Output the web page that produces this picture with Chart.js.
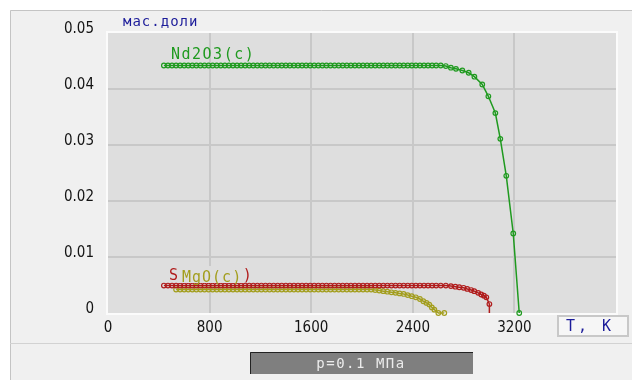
<!DOCTYPE html>
<html>
<head>
<meta charset="utf-8">
<script src="https://cdn.jsdelivr.net/npm/chart.js@4.4.1/dist/chart.umd.min.js"></script>
<style>
  html, body { margin: 0; padding: 0; background: #ffffff; }
  canvas { display: block; }
</style>
</head>
<body>
<canvas id="chart" width="632" height="380"></canvas>
<script>
// axis labels
const yTickLabels = ['0', '0.01', '0.02', '0.03', '0.04', '0.05'];
const xTickLabels = ['0', '800', '1600', '2400', '3200', ''];

// shared temperature grid, K
const gridT = [
  440, 472, 504, 536, 568, 600, 632, 664, 696, 728,
  760, 792, 824, 856, 888, 920, 952, 984, 1016, 1048,
  1080, 1112, 1144, 1176, 1208, 1240, 1272, 1304, 1336, 1368,
  1400, 1432, 1464, 1496, 1528, 1560, 1592, 1624, 1656, 1688,
  1720, 1752, 1784, 1816, 1848, 1880, 1912, 1944, 1976, 2008,
  2040, 2072, 2104, 2136, 2168, 2200, 2232, 2264, 2296, 2328,
  2360, 2392, 2424, 2456, 2488, 2520, 2552, 2584
];

// Nd2O3(c)
const nd2o3T = gridT.concat([2620, 2660, 2700, 2740, 2790, 2840, 2885, 2947, 2995, 3050, 3089, 3136, 3191, 3238]);
const nd2o3 = [
  0.0442, 0.0442, 0.0442, 0.0442, 0.0442, 0.0442, 0.0442, 0.0442, 0.0442, 0.0442,
  0.0442, 0.0442, 0.0442, 0.0442, 0.0442, 0.0442, 0.0442, 0.0442, 0.0442, 0.0442,
  0.0442, 0.0442, 0.0442, 0.0442, 0.0442, 0.0442, 0.0442, 0.0442, 0.0442, 0.0442,
  0.0442, 0.0442, 0.0442, 0.0442, 0.0442, 0.0442, 0.0442, 0.0442, 0.0442, 0.0442,
  0.0442, 0.0442, 0.0442, 0.0442, 0.0442, 0.0442, 0.0442, 0.0442, 0.0442, 0.0442,
  0.0442, 0.0442, 0.0442, 0.0442, 0.0442, 0.0442, 0.0442, 0.0442, 0.0442, 0.0442,
  0.0442, 0.0442, 0.0442, 0.0442, 0.0442, 0.0442, 0.0442, 0.0442,
  0.0442, 0.0441, 0.0438, 0.0436, 0.0433, 0.0429, 0.0422, 0.0408, 0.0387, 0.0357,
  0.0311, 0.0245, 0.0142, 0
];

// Sm2O3(c)
const sm2o3T = gridT.concat([2620, 2660, 2700, 2735, 2766, 2800, 2829, 2860, 2884, 2915, 2939, 2960, 2979, 3003, 3003]);
const sm2o3 = [
  0.0049, 0.0049, 0.0049, 0.0049, 0.0049, 0.0049, 0.0049, 0.0049, 0.0049, 0.0049,
  0.0049, 0.0049, 0.0049, 0.0049, 0.0049, 0.0049, 0.0049, 0.0049, 0.0049, 0.0049,
  0.0049, 0.0049, 0.0049, 0.0049, 0.0049, 0.0049, 0.0049, 0.0049, 0.0049, 0.0049,
  0.0049, 0.0049, 0.0049, 0.0049, 0.0049, 0.0049, 0.0049, 0.0049, 0.0049, 0.0049,
  0.0049, 0.0049, 0.0049, 0.0049, 0.0049, 0.0049, 0.0049, 0.0049, 0.0049, 0.0049,
  0.0049, 0.0049, 0.0049, 0.0049, 0.0049, 0.0049, 0.0049, 0.0049, 0.0049, 0.0049,
  0.0049, 0.0049, 0.0049, 0.0049, 0.0049, 0.0049, 0.0049, 0.0049,
  0.0049, 0.0049, 0.0048, 0.0047, 0.0046, 0.0045, 0.0043, 0.0041, 0.0039, 0.0036,
  0.0033, 0.0031, 0.0028, 0.0016, 0
];

// MgO(c)
const mgoT = gridT.slice(3, 64).concat([2483, 2508, 2530, 2550, 2570, 2601, 2648]);
const mgo = [
  0.0042, 0.0042, 0.0042, 0.0042, 0.0042, 0.0042, 0.0042, 0.0042, 0.0042, 0.0042,
  0.0042, 0.0042, 0.0042, 0.0042, 0.0042, 0.0042, 0.0042, 0.0042, 0.0042, 0.0042,
  0.0042, 0.0042, 0.0042, 0.0042, 0.0042, 0.0042, 0.0042, 0.0042, 0.0042, 0.0042,
  0.0042, 0.0042, 0.0042, 0.0042, 0.0042, 0.0042, 0.0042, 0.0042, 0.0042, 0.0042,
  0.0042, 0.0042, 0.0042, 0.0042, 0.0042, 0.0042, 0.0042, 0.0042, 0.0042,
  0.0041, 0.0040, 0.0039, 0.0038, 0.0037, 0.0036, 0.0035, 0.0034, 0.0032, 0.0030,
  0.0028, 0.0025,
  0.0021, 0.0018, 0.0015, 0.0010, 0.0006, 0, 0
];

const GREEN = '#1f9a1f';
const RED = '#b01c1c';
const OLIVE = '#a39e1e';
const NAVY = '#1c1c9a';

function toPoints(ts, vs) {
  return ts.map((t, i) => ({ x: t, y: vs[i] }));
}

// last red point only closes the line to the axis
const smRadius = sm2o3T.map((t, i) => i === sm2o3T.length - 1 ? 0 : 2.3);

function txt(ctx, s, x, y, font, color, spacing, align) {
  ctx.save();
  ctx.font = font;
  ctx.fillStyle = color;
  ctx.letterSpacing = spacing || '0px';
  ctx.textAlign = align || 'left';
  ctx.textBaseline = 'alphabetic';
  ctx.fillText(s, x, y);
  ctx.restore();
}

const framePlugin = {
  id: 'frame',
  beforeDraw(chart) {
    const { ctx, chartArea: a } = chart;
    ctx.save();
    ctx.fillStyle = '#ffffff';
    ctx.fillRect(0, 0, 632, 380);
    ctx.fillStyle = '#f0f0f0';
    ctx.fillRect(10, 10, 622, 370);
    ctx.strokeStyle = '#c4c4c4';
    ctx.lineWidth = 1;
    ctx.beginPath();
    ctx.moveTo(10.5, 380); ctx.lineTo(10.5, 10.5); ctx.lineTo(632, 10.5);
    ctx.stroke();
    // separator above the pressure box
    ctx.strokeStyle = '#d2d2d2';
    ctx.beginPath();
    ctx.moveTo(10, 343.5); ctx.lineTo(632, 343.5);
    ctx.stroke();
    // plot area
    ctx.fillStyle = '#dedede';
    ctx.fillRect(a.left, a.top, a.right - a.left, a.bottom - a.top);
    ctx.strokeStyle = '#fbfbfb';
    ctx.lineWidth = 2;
    ctx.strokeRect(a.left - 1, a.top - 1, a.right - a.left + 2, a.bottom - a.top + 2);
    ctx.restore();
  },
  afterDatasetsDraw(chart) {
    const { ctx } = chart;
    const mono = '15px "DejaVu Sans Mono"';
    txt(ctx, 'Nd2O3(c)', 171, 59, mono, GREEN, '1.5px');
    txt(ctx, 'Sm2O3(c)', 169, 280, mono, RED, '1.5px');
    // the MgO label box hides the middle of the red label
    ctx.save();
    ctx.fillStyle = '#dedede';
    ctx.fillRect(179, 266, 65, 17);
    ctx.restore();
    txt(ctx, 'MgO(c)', 182, 282, mono, OLIVE, '1px');

    // axis titles
    txt(ctx, 'мас.доли', 123, 26, '14px "DejaVu Sans Mono"', NAVY, '1px');
    ctx.save();
    ctx.fillStyle = '#f6f6f6';
    ctx.fillRect(558, 316, 70, 20);
    ctx.strokeStyle = '#c8c8c8';
    ctx.lineWidth = 2;
    ctx.strokeRect(558, 316, 70, 20);
    ctx.restore();
    txt(ctx, 'T, K', 566, 331, '15px "DejaVu Sans Mono"', NAVY, '3px');

    // pressure box
    ctx.save();
    ctx.fillStyle = '#7f7f7f';
    ctx.fillRect(250, 352, 223, 22);
    ctx.strokeStyle = '#222222';
    ctx.lineWidth = 1;
    ctx.beginPath();
    ctx.moveTo(250.5, 374); ctx.lineTo(250.5, 352.5); ctx.lineTo(473, 352.5);
    ctx.stroke();
    ctx.restore();
    txt(ctx, 'p=0.1 МПа', 361, 368, '14px "DejaVu Sans Mono"', '#ececec', '1.5px', 'center');
  }
};

const series = [
  { label: 'Nd2O3(c)', data: toPoints(nd2o3T, nd2o3), color: GREEN, radius: 2.3 },
  { label: 'Sm2O3(c)', data: toPoints(sm2o3T, sm2o3), color: RED, radius: smRadius },
  { label: 'MgO(c)', data: toPoints(mgoT, mgo), color: OLIVE, radius: 2.3 }
];

new Chart(document.getElementById('chart'), {
  type: 'scatter',
  data: {
    datasets: series.map(s => ({
      label: s.label,
      data: s.data,
      showLine: true,
      borderColor: s.color,
      borderWidth: 1.5,
      pointRadius: s.radius,
      pointBorderWidth: 1.2,
      pointBorderColor: s.color,
      pointBackgroundColor: 'rgba(0,0,0,0)',
      tension: 0,
      clip: false
    }))
  },
  options: {
    responsive: false,
    animation: false,
    layout: { padding: { top: 33, right: 16, left: 0, bottom: 0 } },
    plugins: {
      legend: { display: false },
      tooltip: { enabled: false }
    },
    scales: {
      x: {
        type: 'linear',
        min: 0,
        max: 4000,
        afterFit: s => { s.height = 67; },
        ticks: {
          stepSize: 800,
          padding: 6,
          color: '#141414',
          font: { family: '"DejaVu Sans Condensed"', size: 15 },
          maxRotation: 0,
          callback: (v, i) => xTickLabels[i]
        },
        grid: {
          drawTicks: false,
          lineWidth: 2,
          color: c => (c.tick && (c.tick.value === 0 || c.tick.value === 4000)) ? 'rgba(0,0,0,0)' : '#c8c8c8'
        },
        border: { display: false }
      },
      y: {
        min: 0,
        max: 0.05,
        afterFit: s => { s.width = 108; },
        ticks: {
          stepSize: 0.01,
          padding: 14,
          labelOffset: -4,
          color: '#141414',
          font: { family: '"DejaVu Sans Condensed"', size: 15 },
          callback: (v, i) => yTickLabels[i]
        },
        grid: {
          drawTicks: false,
          lineWidth: 2,
          color: c => (c.tick && (c.tick.value === 0 || c.tick.value >= 0.0499)) ? 'rgba(0,0,0,0)' : '#c8c8c8'
        },
        border: { display: false }
      }
    }
  },
  plugins: [framePlugin]
});
</script>
</body>
</html>
